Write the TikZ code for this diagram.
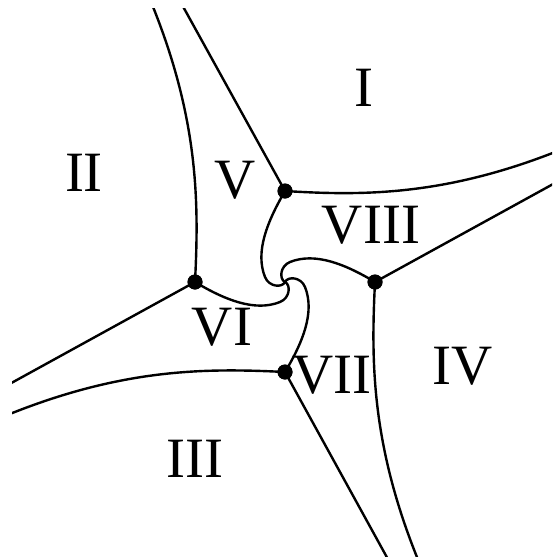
\documentclass[tikz,border=0pt]{standalone}
\usepackage{fontspec}
\setmainfont{Liberation Serif}
\begin{document}
\begin{tikzpicture}[x=1pt,y=-1pt,
  edge/.style={line width=2.4pt,line join=round},
  dotnode/.style={circle,fill=black,inner sep=0pt,minimum size=15pt},
  lab/.style={inner sep=0pt,font=\fontsize{57}{57}\selectfont}]
\useasboundingbox (0,0) rectangle (552,557);
\coordinate (c) at (285,282);
\node[dotnode] (dR) at (375,282) {};
\node[dotnode] (dT) at (285,191) {};
\node[dotnode] (dL) at (195,282) {};
\node[dotnode] (dB) at (285,372) {};
\begin{scope}
\clip (12,8) rectangle (552,557);
\foreach \r/\n in {0/dR,90/dT,180/dL,270/dB}{
  \begin{scope}[shift={(285,282)},rotate=\r]
    \coordinate (out\n) at (290,-110);
    \coordinate (far\n) at (136,285);
    \draw[edge] (\n.center) -- (out\n);
    \draw[edge] (\n.center) .. controls (86,80) and (86,165) .. (far\n);
    \draw[edge] (\n.center) .. controls (60,-18) and (30,-30) .. (5,-20)
                .. controls (-5,-16) and (-6,-3) .. (c);
  \end{scope}
}
\end{scope}
\node[dotnode] at (dR) {};
\node[dotnode] at (dT) {};
\node[dotnode] at (dL) {};
\node[dotnode] at (dB) {};
\node[lab] (l1) at (364,88) {I};
\node[lab] (l2) at (84,173) {II};
\node[lab] (l3) at (195,459) {III};
\node[lab] (l4) at (463,366) {IV};
\node[lab] (l5) at (235,180) {V};
\node[lab] (l6) at (222,327) {VI};
\node[lab] (l7) at (332,375) {VII};
\node[lab] (l8) at (371,225) {VIII};
\end{tikzpicture}
\end{document}
